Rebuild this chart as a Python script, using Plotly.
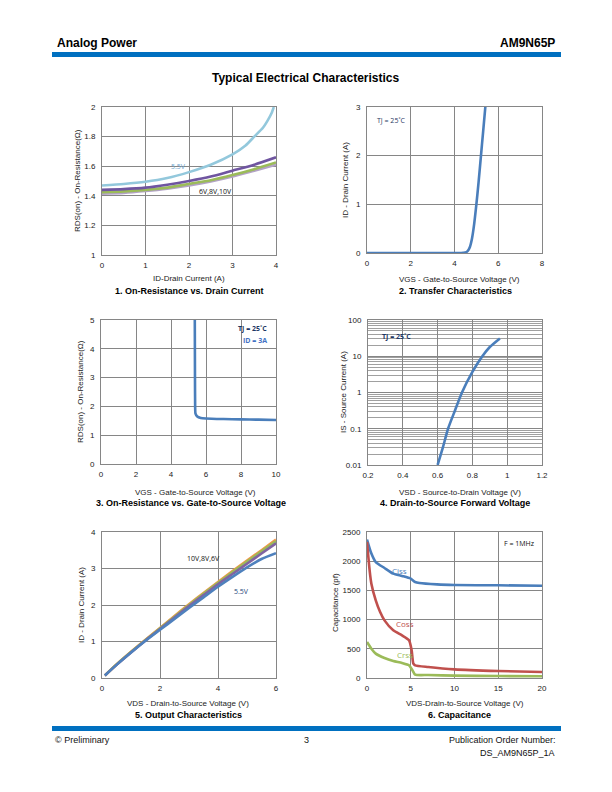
import plotly.graph_objects as go

W, H = 612, 792

# ---------------- data ----------------
# 1. On-Resistance vs Drain Current
p1_id_55 = [0, 0.5, 1, 1.5, 2, 2.5, 3, 3.3, 3.5, 3.7, 3.8, 3.9, 3.95]
p1_r_55 = [1.47, 1.48, 1.495, 1.52, 1.56, 1.61, 1.68, 1.74, 1.80, 1.86, 1.905, 1.96, 2.0]
p1_id = [0, 0.5, 1, 1.5, 2, 2.5, 3, 3.5, 4]
p1_r_10 = [1.44, 1.445, 1.455, 1.475, 1.50, 1.53, 1.57, 1.61, 1.66]
p1_r_8 = [1.425, 1.43, 1.44, 1.455, 1.48, 1.505, 1.54, 1.58, 1.625]
p1_r_6 = [1.415, 1.42, 1.432, 1.448, 1.47, 1.497, 1.53, 1.57, 1.61]

# 2. Transfer characteristics
p2_vgs = [0, 4.3, 4.4, 4.5, 4.6, 4.7, 4.8, 4.9, 5.0, 5.1, 5.2, 5.31, 5.41]
p2_id = [0, 0, 0.003, 0.01, 0.04, 0.12, 0.3, 0.6, 1.0, 1.45, 1.95, 2.5, 3.0]

# 3. On-Resistance vs VGS
p3_vgs = [5.36, 5.37, 5.38, 5.40, 5.5, 5.7, 6, 7, 8, 9, 10]
p3_r = [5.0, 3.0, 2.0, 1.75, 1.65, 1.6, 1.58, 1.56, 1.55, 1.54, 1.53]

# 4. Forward voltage
p4_vsd = [0.6, 0.63, 0.66, 0.70, 0.74, 0.80, 0.857, 0.9, 0.958]
p4_is = [0.01, 0.03, 0.1, 0.32, 1.0, 3.7, 10, 18, 31]

# 5. Output characteristics
p5_vds = [0.1, 0.5, 1, 1.5, 2, 2.5, 3, 3.5, 4, 4.5, 5, 5.5, 6]
p5_10 = [0.07, 0.37, 0.72, 1.05, 1.37, 1.70, 2.02, 2.33, 2.63, 2.93, 3.22, 3.50, 3.79]
p5_8 = [0.07, 0.37, 0.71, 1.04, 1.36, 1.68, 2.00, 2.31, 2.61, 2.90, 3.19, 3.47, 3.75]
p5_6 = [0.07, 0.36, 0.70, 1.03, 1.34, 1.66, 1.97, 2.27, 2.57, 2.85, 3.13, 3.41, 3.69]
p5_55 = [0.07, 0.36, 0.70, 1.02, 1.32, 1.62, 1.92, 2.21, 2.50, 2.77, 3.03, 3.26, 3.42]

# 6. Capacitance
p6_v_ciss = [0, 0.5, 1, 2, 3, 4, 5, 5.5, 6, 8, 10, 15, 20]
p6_ciss = [2370, 2130, 1986, 1884, 1787, 1747, 1701, 1644, 1627, 1604, 1593, 1587, 1580]
p6_v_coss = [0, 0.3, 0.5, 1, 1.5, 2, 3, 4, 4.8, 5.1, 5.3, 5.5, 7, 10, 15, 20]
p6_coss = [2330, 1844, 1615, 1330, 1130, 987, 816, 730, 645, 474, 245, 217, 188, 148, 120, 103]
p6_v_crss = [0, 0.5, 1, 2, 3, 4, 4.8, 5.2, 5.5, 7, 10, 15, 20]
p6_crss = [616, 502, 417, 342, 291, 257, 217, 131, 57, 51, 40, 34, 29]

# ---------------- layout helpers ----------------
def px(x):
    return x / W

def py(y):
    return 1 - y / H

FONT = "Liberation Sans, Arial, sans-serif"
GRID = "#868686"

fig = go.Figure()

def add(x, y, color, ax, width=2.6):
    fig.add_trace(go.Scatter(x=x, y=y, mode="lines", line=dict(color=color, width=width, shape="spline", smoothing=0.6),
                             xaxis="x" + ax, yaxis="y" + ax, showlegend=False, hoverinfo="skip"))

# plot 1
add(p1_id, p1_r_6, "#b3a2c7", "")
add(p1_id, p1_r_8, "#9bbb59", "")
add(p1_id, p1_r_10, "#6f55a0", "")
add(p1_id_55, p1_r_55, "#93c8dc", "")
# plot 2
add(p2_vgs, p2_id, "#4a7ebb", "2")
# plot 3
add(p3_vgs, p3_r, "#4a7ebb", "3")
# plot 4
add(p4_vsd, p4_is, "#4a7ebb", "4")
# plot 5
add(p5_vds, p5_10, "#f79646", "5")
add(p5_vds, p5_8, "#9bbb59", "5")
add(p5_vds, p5_6, "#8064a2", "5")
add(p5_vds, p5_55, "#4f81bd", "5")
# plot 6
add(p6_v_ciss, p6_ciss, "#4a7ebb", "6")
add(p6_v_coss, p6_coss, "#c0504d", "6")
add(p6_v_crss, p6_crss, "#9bbb59", "6")

boxes = {
    "": (102, 276, 107, 255),
    "2": (367, 542, 107, 253),
    "3": (101, 276, 320, 464),
    "4": (368, 542, 320, 465),
    "5": (102, 276, 532, 678),
    "6": (367, 542, 532, 678),
}
xr = {"": [0, 4], "2": [0, 8], "3": [0, 10], "4": [0.2, 1.2], "5": [0, 6], "6": [0, 20]}
xd = {"": 1, "2": 2, "3": 2, "4": 0.2, "5": 2, "6": 5}
yr = {"": [1, 2], "2": [0, 3], "3": [0, 5], "4": [-2, 2], "5": [0, 4], "6": [0, 2500]}
yd = {"": 0.2, "2": 1, "3": 1, "4": 1, "5": 1, "6": 500}

tickfont = dict(family=FONT, size=8, color="#222")
lay = {}
for k, (x0, x1, y0, y1) in boxes.items():
    xa = dict(domain=[px(x0), px(x1)], range=xr[k], dtick=xd[k], tick0=xr[k][0], showgrid=True, gridcolor=GRID,
              gridwidth=1, showline=True, linecolor=GRID, linewidth=1, mirror=True, zeroline=False,
              tickfont=tickfont, anchor="y" + k, ticks="", fixedrange=True, automargin=False,
              ticklabelstandoff=2)
    ya = dict(domain=[py(y1), py(y0)], showgrid=True, gridcolor=GRID, gridwidth=1, showline=True,
              linecolor=GRID, linewidth=1, mirror=True, zeroline=False, tickfont=tickfont,
              anchor="x" + k, ticks="", fixedrange=True, automargin=False, ticklabelstandoff=4)
    if k == "4":
        ya.update(type="log", range=yr[k], tickvals=[0.01, 0.1, 1, 10, 100],
                  ticktext=["0.01", "0.1", "1", "10", "100"],
                  minor=dict(showgrid=True, gridcolor="#a0a0a0", gridwidth=1, dtick="D1"))
    else:
        ya.update(range=yr[k], dtick=yd[k], tick0=yr[k][0], tickformat="d" if k == "6" else None)
    lay["xaxis" + k] = xa
    lay["yaxis" + k] = ya

ann = []

def text(x, y, s, size=8, bold=False, color="#222", xanchor="center", angle=0, family=FONT, yanchor="middle"):
    ann.append(dict(x=px(x), y=py(y), xref="paper", yref="paper", text=("<b>%s</b>" % s) if bold else s,
                    showarrow=False, font=dict(family=family, size=size, color=color), xanchor=xanchor,
                    yanchor=yanchor, textangle=angle))

# page header/footer
text(55, 43, "Analog Power", size=12, bold=True, color="#000", xanchor="left")
text(557, 43, "AM9N65P", size=12, bold=True, color="#000", xanchor="right")
text(306, 78, "Typical Electrical Characteristics", size=12, bold=True, color="#000")
text(53, 740, "© Preliminary", size=9, color="#111", xanchor="left")
text(306, 740, "3", size=9, color="#111")
text(558, 740, "Publication Order Number:", size=9, color="#111", xanchor="right")
text(557, 753, "DS_AM9N65P_1A", size=9, color="#111", xanchor="right")

# axis titles & chart titles
text(189, 278, "ID-Drain Current (A)")
text(189, 291, "1. On-Resistance vs. Drain Current", size=9, bold=True, color="#000")
text(77, 181, "RDS(on) - On-Resistance(Ω)", angle=-90)

text(459, 279, "VGS - Gate-to-Source Voltage (V)")
text(455, 291, "2. Transfer Characteristics", size=9, bold=True, color="#000")
text(345, 180, "ID - Drain Current (A)", angle=-90)

text(195, 492, "VGS - Gate-to-Source Voltage (V)")
text(191, 503, "3. On-Resistance vs. Gate-to-Source Voltage", size=9, bold=True, color="#000")
text(80, 392, "RDS(on) - On-Resistance(Ω)", angle=-90)

text(460, 492, "VSD - Source-to-Drain Voltage (V)")
text(455, 503, "4. Drain-to-Source Forward Voltage", size=9, bold=True, color="#000")
text(343, 392, "IS - Source Current (A)", angle=-90)

text(188, 703, "VDS - Drain-to-Source Voltage (V)")
text(188, 715, "5. Output Characteristics", size=9, bold=True, color="#000")
text(81, 605, "ID - Drain Current (A)", angle=-90)

text(465, 703, "VDS-Drain-to-Source Voltage (V)")
text(459, 715, "6. Capacitance", size=9, bold=True, color="#000")
text(335, 603, "Capacitance (pf)", angle=-90)

# in-plot labels (data coordinates)
def dtext(ax, x, y, s, color, size=7, xanchor="center", bold=False):
    ann.append(dict(x=x, y=y, xref="x" + ax, yref="y" + ax, text=("<b>%s</b>" % s) if bold else s,
                    showarrow=False, font=dict(family="Open Sans, sans-serif", size=size, color=color),
                    xanchor=xanchor))

dtext("", 1.75, 1.598, "5.5V", "#6fa7cf")
dtext("", 2.6, 1.43, "6V,8V,10V", "#111")
dtext("2", 0.35, 2.73, "TJ = 25˚C", "#1f3864", xanchor="left")
dtext("3", 9.6, 4.7, "TJ = 25˚C", "#1f3864", xanchor="right", bold=True)
dtext("3", 9.6, 4.3, "ID = 3A", "#4472c4", xanchor="right", bold=True)
dtext("4", 0.27, 1.55, "TJ = 25˚C", "#1f3864", xanchor="left", bold=True)
dtext("5", 3.5, 3.27, "10V,8V,6V", "#111")
dtext("5", 4.8, 2.37, "5.5V", "#1f497d")
dtext("6", 19.3, 2310, "F = 1MHz", "#111", xanchor="right")
dtext("6", 3.7, 1840, "Ciss", "#4a7ebb", size=8)
dtext("6", 4.3, 930, "Coss", "#c0504d", size=8)
dtext("6", 4.3, 400, "Crss", "#9bbb59", size=8)

shapes = [
    dict(type="rect", xref="paper", yref="paper", x0=px(52), x1=px(561), y0=py(57), y1=py(52),
         fillcolor="#0070c0", line=dict(width=0)),
    dict(type="rect", xref="paper", yref="paper", x0=px(52), x1=px(561), y0=py(731), y1=py(726),
         fillcolor="#0070c0", line=dict(width=0)),
]

fig.update_layout(width=W, height=H, margin=dict(l=0, r=0, t=0, b=0, autoexpand=False), paper_bgcolor="white",
                  plot_bgcolor="white", annotations=ann, shapes=shapes, showlegend=False, **lay)
fig.write_html("out.html", config={"responsive": False, "displayModeBar": False},
               post_script=("document.body.style.margin='0';document.body.style.padding='0';"
                            "document.body.style.overflow='hidden';"))
